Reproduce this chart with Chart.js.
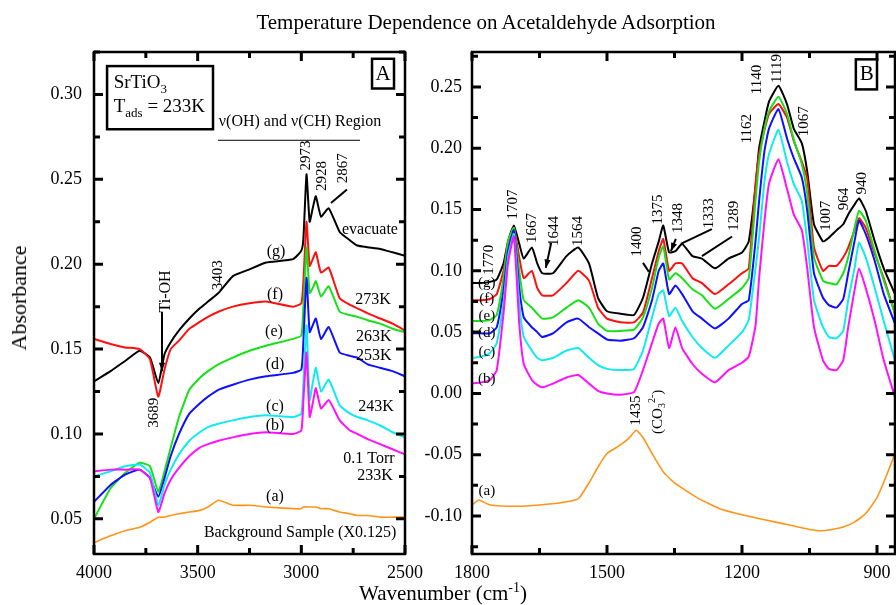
<!DOCTYPE html>
<html>
<head>
<meta charset="utf-8">
<script src="https://cdn.jsdelivr.net/npm/chart.js@4.4.1/dist/chart.umd.min.js"></script>
<style>
  body { margin: 0; background: #fff; font-family: "Liberation Serif", serif; }
  #page { position: relative; width: 896px; height: 605px; overflow: hidden; }
  #title { position: absolute; left: 486px; top: 10px; transform: translateX(-50%); font-size: 21px; white-space: nowrap; }
  #ytitle { position: absolute; left: 19px; top: 298px; transform: translate(-50%, -50%) rotate(-90deg); font-size: 22px; white-space: nowrap; }
  #xtitle { position: absolute; left: 443px; top: 580px; transform: translateX(-50%); font-size: 21px; white-space: nowrap; }
  #xtitle sup { font-size: 14px; }
  #wrapA { position: absolute; left: 0; top: 0; }
  #wrapB { position: absolute; left: 400px; top: 0; }
</style>
</head>
<body>
<div id="page">
  <div id="wrapB"><canvas id="chartB" width="496" height="605"></canvas></div>
  <div id="wrapA"><canvas id="chartA" width="440" height="605"></canvas></div>
  <div id="title">Temperature Dependence on Acetaldehyde Adsorption</div>
  <div id="ytitle">Absorbance</div>
  <div id="xtitle">Wavenumber (cm<sup>-1</sup>)</div>
</div>
<script>
"use strict";
{
    // ---- panel A: v(OH) / v(CH) region ----
    const wnA = [4000, 3920, 3850, 3780, 3730, 3690, 3660, 3630, 3590, 3540, 3490, 3450, 3400, 3330, 3250, 3170,
        3040, 3000, 2990, 2975, 2960, 2945, 2930, 2905, 2868, 2815, 2765, 2730, 2680, 2620, 2560, 2500];
    const absA_a = [0.036, 0.040, 0.043, 0.045, 0.048, 0.051, 0.051, 0.052, 0.053, 0.054, 0.055, 0.057, 0.061, 0.058, 0.058, 0.057,
        0.056, 0.056, 0.057, 0.057, 0.057, 0.057, 0.057, 0.056, 0.056, 0.054, 0.053, 0.052, 0.052, 0.051, 0.051, 0.051];
    const absA_b = [0.078, 0.079, 0.079, 0.079, 0.074, 0.054, 0.065, 0.073, 0.080, 0.087, 0.092, 0.094, 0.096, 0.098, 0.100, 0.101,
        0.100, 0.102, 0.120, 0.148, 0.110, 0.118, 0.127, 0.115, 0.120, 0.108, 0.102, 0.100, 0.097, 0.094, 0.091, 0.088];
    const absA_c = [0.075, 0.078, 0.081, 0.082, 0.077, 0.058, 0.070, 0.079, 0.088, 0.096, 0.101, 0.104, 0.106, 0.108, 0.110, 0.111,
        0.110, 0.112, 0.130, 0.164, 0.120, 0.130, 0.139, 0.125, 0.132, 0.117, 0.112, 0.110, 0.108, 0.105, 0.101, 0.098];
    const absA_d = [0.060, 0.070, 0.076, 0.079, 0.074, 0.063, 0.074, 0.087, 0.100, 0.112, 0.118, 0.122, 0.126, 0.129, 0.132, 0.134,
        0.136, 0.138, 0.155, 0.192, 0.160, 0.164, 0.168, 0.156, 0.163, 0.148, 0.146, 0.145, 0.141, 0.139, 0.137, 0.134];
    const absA_e = [0.050, 0.068, 0.077, 0.083, 0.081, 0.066, 0.078, 0.092, 0.110, 0.126, 0.133, 0.137, 0.141, 0.145, 0.149, 0.152,
        0.156, 0.158, 0.175, 0.210, 0.183, 0.186, 0.190, 0.181, 0.187, 0.172, 0.170, 0.169, 0.167, 0.165, 0.162, 0.160];
    const absA_f = [0.156, 0.153, 0.151, 0.150, 0.144, 0.122, 0.138, 0.150, 0.155, 0.162, 0.166, 0.169, 0.172, 0.175, 0.177, 0.178,
        0.175, 0.177, 0.190, 0.225, 0.199, 0.203, 0.207, 0.195, 0.198, 0.180, 0.176, 0.174, 0.171, 0.168, 0.165, 0.161];
    const absA_g = [0.131, 0.137, 0.143, 0.149, 0.145, 0.130, 0.147, 0.154, 0.161, 0.168, 0.174, 0.178, 0.183, 0.193, 0.197, 0.201,
        0.203, 0.208, 0.215, 0.253, 0.225, 0.233, 0.240, 0.228, 0.233, 0.219, 0.214, 0.211, 0.210, 0.209, 0.207, 0.205];
    const xTicksA = [2500, 3000, 3500, 4000];
    const yTicksA = [0.05, 0.10, 0.15, 0.20, 0.25, 0.30];

    // ---- panel B: fingerprint region ----
    const wnB = [1800, 1780, 1760, 1745, 1730, 1720, 1707, 1695, 1685, 1667, 1655, 1644, 1620, 1590, 1564, 1540, 1520, 1500,
        1470, 1440, 1420, 1400, 1385, 1375, 1362, 1348, 1333, 1310, 1289, 1260, 1230, 1200, 1185, 1170, 1162, 1150,
        1140, 1119, 1100, 1085, 1067, 1055, 1040, 1020, 1007, 990, 975, 964, 950, 940, 925, 905, 885, 860];
    const absB_b = [0.008, 0.009, 0.011, 0.019, 0.065, 0.106, 0.128, 0.057, 0.024, 0.011, 0.007, 0.005, 0.008, 0.013, 0.015, 0.008, 0.002, 0.000,
        -0.001, 0.001, 0.019, 0.041, 0.057, 0.061, 0.037, 0.054, 0.037, 0.024, 0.016, 0.009, 0.019, 0.025, 0.030, 0.055, 0.094, 0.141,
        0.171, 0.191, 0.167, 0.146, 0.133, 0.102, 0.054, 0.027, 0.020, 0.019, 0.027, 0.054, 0.084, 0.102, 0.086, 0.059, 0.027, -0.003];
    const absB_c = [0.029, 0.030, 0.033, 0.041, 0.073, 0.111, 0.130, 0.073, 0.046, 0.035, 0.029, 0.027, 0.029, 0.035, 0.037, 0.029, 0.023, 0.020,
        0.019, 0.020, 0.035, 0.062, 0.081, 0.084, 0.063, 0.070, 0.059, 0.046, 0.037, 0.029, 0.039, 0.050, 0.060, 0.102, 0.127, 0.173,
        0.195, 0.215, 0.189, 0.171, 0.157, 0.124, 0.076, 0.054, 0.046, 0.045, 0.051, 0.076, 0.102, 0.123, 0.111, 0.086, 0.059, 0.027];
    const absB_d = [0.049, 0.049, 0.049, 0.054, 0.084, 0.116, 0.133, 0.086, 0.062, 0.054, 0.050, 0.046, 0.049, 0.058, 0.061, 0.054, 0.049, 0.044,
        0.043, 0.045, 0.054, 0.076, 0.100, 0.106, 0.081, 0.088, 0.081, 0.067, 0.061, 0.053, 0.061, 0.073, 0.076, 0.124, 0.157, 0.198,
        0.216, 0.232, 0.208, 0.192, 0.176, 0.149, 0.098, 0.078, 0.072, 0.070, 0.077, 0.098, 0.124, 0.141, 0.130, 0.108, 0.081, 0.057];
    const absB_e = [0.059, 0.059, 0.060, 0.064, 0.094, 0.124, 0.135, 0.100, 0.076, 0.070, 0.065, 0.061, 0.062, 0.070, 0.076, 0.070, 0.057, 0.051,
        0.051, 0.052, 0.062, 0.086, 0.111, 0.120, 0.093, 0.098, 0.094, 0.085, 0.080, 0.069, 0.077, 0.086, 0.094, 0.157, 0.189, 0.216,
        0.230, 0.242, 0.228, 0.207, 0.187, 0.163, 0.111, 0.092, 0.090, 0.089, 0.098, 0.111, 0.135, 0.149, 0.141, 0.116, 0.092, 0.065];
    const absB_f = [0.076, 0.076, 0.077, 0.081, 0.100, 0.122, 0.135, 0.111, 0.094, 0.100, 0.086, 0.080, 0.080, 0.090, 0.100, 0.092, 0.070, 0.061,
        0.058, 0.058, 0.066, 0.094, 0.116, 0.126, 0.100, 0.106, 0.106, 0.094, 0.090, 0.081, 0.089, 0.098, 0.102, 0.171, 0.195, 0.215,
        0.228, 0.236, 0.225, 0.206, 0.189, 0.175, 0.119, 0.100, 0.104, 0.104, 0.111, 0.119, 0.133, 0.143, 0.135, 0.114, 0.094, 0.065];
    const absB_g = [0.090, 0.090, 0.091, 0.093, 0.106, 0.124, 0.137, 0.122, 0.110, 0.119, 0.106, 0.098, 0.098, 0.112, 0.119, 0.106, 0.078, 0.067,
        0.065, 0.064, 0.078, 0.106, 0.124, 0.137, 0.115, 0.116, 0.122, 0.112, 0.110, 0.102, 0.110, 0.115, 0.124, 0.168, 0.200, 0.222,
        0.238, 0.251, 0.236, 0.216, 0.204, 0.181, 0.138, 0.124, 0.127, 0.133, 0.138, 0.146, 0.154, 0.159, 0.149, 0.124, 0.102, 0.081];
    // background sample (a) has its own sampling
    const wnB_a = [1800, 1785, 1760, 1700, 1650, 1600, 1564, 1540, 1520, 1500, 1470, 1450, 1435, 1420, 1400, 1375,
        1350, 1300, 1250, 1200, 1150, 1100, 1075, 1050, 1025, 1000, 975, 950, 925, 900, 880, 860];
    const absB_a = [-0.091, -0.087, -0.091, -0.092, -0.091, -0.089, -0.086, -0.073, -0.060, -0.049, -0.042, -0.036, -0.030, -0.036, -0.049, -0.064,
        -0.073, -0.085, -0.094, -0.099, -0.103, -0.107, -0.109, -0.111, -0.112, -0.111, -0.109, -0.105, -0.098, -0.085, -0.068, -0.049];
    const xTicksB = [900, 1200, 1500, 1800];
    const yTicksB = [-0.10, -0.05, 0.00, 0.05, 0.10, 0.15, 0.20, 0.25];

    const colors = { a: '#ff9419', b: '#ff10ff', c: '#10eaf0', d: '#1010ff', e: '#18e018', f: '#ff1010', g: '#000000' };
    const FONT = '"Liberation Serif", "Times New Roman", serif';

    function pts(xs, ys) {
        return xs.map((x, i) => ({ x: x, y: ys[i] }));
    }

    function series(key, xs, ys, width) {
        return {
            label: key,
            data: pts(xs, ys),
            borderColor: colors[key],
            borderWidth: width || 2,
            pointRadius: 0,
            tension: 0.15,
            fill: false
        };
    }

    // draws text with optional sub/superscript parts
    function richText(ctx, segs, size, align) {
        const parts = segs.map(g => typeof g === 'string' ? { s: g } : g);
        let w = 0;
        parts.forEach(p => {
            ctx.font = (p.sub || p.sup ? Math.round(size * 0.68) : size) + 'px ' + FONT;
            p.w = ctx.measureText(p.s).width;
            w += p.w;
        });
        let x = align === 'left' ? 0 : align === 'right' ? -w : -w / 2;
        parts.forEach(p => {
            ctx.font = (p.sub || p.sup ? Math.round(size * 0.68) : size) + 'px ' + FONT;
            const dy = p.sub ? size * 0.32 : p.sup ? -size * 0.38 : 0;
            ctx.fillText(p.s, x, dy);
            x += p.w;
        });
    }

    // frame, inward ticks and annotations
    function frameNotes(notes) {
        return {
            id: 'frameNotes',
            afterDraw(chart) {
                const ctx = chart.ctx;
                const area = chart.chartArea;
                const xs = chart.scales.x, ys = chart.scales.y;
                ctx.save();
                ctx.strokeStyle = '#000';
                ctx.lineWidth = 2.5;
                ctx.strokeRect(area.left, area.top, area.right - area.left, area.bottom - area.top);

                const drawTicks = (scale, horiz) => {
                    const vals = scale.ticks.map(t => t.value);
                    const step = vals[1] - vals[0];
                    const all = [];
                    vals.forEach(v => all.push([v, true]));
                    for (let v = vals[0] - step / 2; v <= scale.max + 1e-9; v += step) {
                        if (v >= scale.min - 1e-9) all.push([v, false]);
                    }
                    ctx.lineWidth = 3;
                    all.forEach(([v, major]) => {
                        const len = major ? 9 : 6;
                        const p = scale.getPixelForValue(v);
                        ctx.beginPath();
                        if (horiz) {
                            ctx.moveTo(p, area.bottom); ctx.lineTo(p, area.bottom - len);
                            ctx.moveTo(p, area.top); ctx.lineTo(p, area.top + len);
                        } else {
                            ctx.moveTo(area.left, p); ctx.lineTo(area.left + len, p);
                            ctx.moveTo(area.right, p); ctx.lineTo(area.right - len, p);
                        }
                        ctx.stroke();
                    });
                };
                drawTicks(xs, true);
                drawTicks(ys, false);

                ctx.fillStyle = '#000';
                ctx.textBaseline = 'middle';
                notes.forEach(n => {
                    if (n.box) {
                        const [x1, y1, x2, y2] = n.box;
                        const px1 = xs.getPixelForValue(x1), py1 = ys.getPixelForValue(y1);
                        const px2 = xs.getPixelForValue(x2), py2 = ys.getPixelForValue(y2);
                        ctx.lineWidth = 2.5;
                        ctx.fillStyle = '#fff';
                        ctx.fillRect(px1, py1, px2 - px1, py2 - py1);
                        ctx.strokeRect(px1, py1, px2 - px1, py2 - py1);
                        ctx.fillStyle = '#000';
                        return;
                    }
                    if (n.line) {
                        const [[x1, y1], [x2, y2]] = n.line;
                        const a = [xs.getPixelForValue(x1), ys.getPixelForValue(y1)];
                        const b = [xs.getPixelForValue(x2), ys.getPixelForValue(y2)];
                        ctx.lineWidth = n.w || 2;
                        ctx.beginPath();
                        ctx.moveTo(a[0], a[1]);
                        ctx.lineTo(b[0], b[1]);
                        ctx.stroke();
                        if (n.arrow) {
                            const ang = Math.atan2(b[1] - a[1], b[0] - a[0]);
                            ctx.beginPath();
                            ctx.moveTo(b[0], b[1]);
                            ctx.lineTo(b[0] - 9 * Math.cos(ang - 0.35), b[1] - 9 * Math.sin(ang - 0.35));
                            ctx.lineTo(b[0] - 9 * Math.cos(ang + 0.35), b[1] - 9 * Math.sin(ang + 0.35));
                            ctx.closePath();
                            ctx.fill();
                        }
                        return;
                    }
                    ctx.save();
                    ctx.translate(xs.getPixelForValue(n.x), ys.getPixelForValue(n.y));
                    if (n.rot) ctx.rotate(n.rot * Math.PI / 180);
                    richText(ctx, Array.isArray(n.t) ? n.t : [n.t], n.size || 16, n.align);
                    ctx.restore();
                });
                ctx.restore();
            }
        };
    }

    const notesA = [
        { box: [3937, 0.3167, 3426, 0.2795] },
        { t: ['SrTiO', { s: '3', sub: true }], x: 3905, y: 0.3065, size: 19, align: 'left' },
        { t: ['T', { s: 'ads', sub: true }, ' = 233K'], x: 3905, y: 0.2925, size: 19, align: 'left' },
        { box: [2659, 0.321, 2553, 0.3035] },
        { t: 'A', x: 2606, y: 0.312, size: 21 },
        { t: 'ν(OH) and ν(CH) Region', x: 3006, y: 0.284 },
        { line: [[3402, 0.273], [2717, 0.273]], w: 1 },
        { t: '2973', x: 2978, y: 0.264, rot: -90, size: 15 },
        { t: '2928', x: 2900, y: 0.252, rot: -90, size: 15 },
        { t: '2867', x: 2800, y: 0.2565, rot: -90, size: 15 },
        { line: [[2780, 0.244], [2857, 0.236]], w: 2 },
        { t: 'evacuate', x: 2669, y: 0.2205 },
        { t: '3403', x: 3402, y: 0.1935, rot: -90, size: 15 },
        { t: 'Ti-OH', x: 3654, y: 0.184, rot: -90, size: 16 },
        { line: [[3672, 0.172], [3672, 0.137]], w: 2, arrow: true },
        { t: '3689', x: 3711, y: 0.1125, rot: -90, size: 15 },
        { t: '(g)', x: 3122, y: 0.2075 },
        { t: '(f)', x: 3127, y: 0.182 },
        { t: '(e)', x: 3132, y: 0.160 },
        { t: '(d)', x: 3127, y: 0.141 },
        { t: '(c)', x: 3127, y: 0.116 },
        { t: '(b)', x: 3127, y: 0.105 },
        { t: '(a)', x: 3127, y: 0.063 },
        { t: '273K', x: 2654, y: 0.179 },
        { t: '263K', x: 2650, y: 0.157 },
        { t: '253K', x: 2650, y: 0.146 },
        { t: '243K', x: 2640, y: 0.116 },
        { t: '0.1 Torr', x: 2674, y: 0.0855 },
        { t: '233K', x: 2645, y: 0.0755 },
        { t: 'Background Sample (X0.125)', x: 3006, y: 0.0417 }
    ];

    const notesB = [
        { box: [947, 0.2725, 900, 0.248] },
        { t: 'B', x: 923, y: 0.2605, size: 21 },
        { t: '(g)', x: 1767, y: 0.090, size: 15 },
        { t: '(f)', x: 1767, y: 0.077, size: 15 },
        { t: '(e)', x: 1767, y: 0.063, size: 15 },
        { t: '(d)', x: 1767, y: 0.049, size: 15 },
        { t: '(c)', x: 1767, y: 0.034, size: 15 },
        { t: '(b)', x: 1767, y: 0.012, size: 15 },
        { t: '(a)', x: 1767, y: -0.080, size: 15 },
        { t: '1770', x: 1762, y: 0.109, rot: -90, size: 15 },
        { t: '1707', x: 1709, y: 0.154, rot: -90, size: 15 },
        { t: '1667', x: 1667, y: 0.135, rot: -90, size: 15 },
        { t: '1644', x: 1618, y: 0.1325, rot: -90, size: 15 },
        { line: [[1624, 0.1228], [1636, 0.1024]], w: 2, arrow: true },
        { t: '1564', x: 1564, y: 0.1325, rot: -90, size: 15 },
        { t: '1400', x: 1433, y: 0.124, rot: -90, size: 15 },
        { line: [[1420, 0.1065], [1407, 0.0992]], w: 2 },
        { t: '1375', x: 1387, y: 0.150, rot: -90, size: 15 },
        { t: '1348', x: 1342, y: 0.143, rot: -90, size: 15 },
        { line: [[1347, 0.126], [1358, 0.116]], w: 2, arrow: true },
        { t: '1333', x: 1273, y: 0.147, rot: -90, size: 15 },
        { line: [[1267, 0.134], [1336, 0.122]], w: 2 },
        { t: '1289', x: 1218, y: 0.145, rot: -90, size: 15 },
        { line: [[1222, 0.128], [1289, 0.112]], w: 2 },
        { t: '1162', x: 1189, y: 0.216, rot: -90, size: 15 },
        { t: '1140', x: 1167, y: 0.256, rot: -90, size: 15 },
        { t: '1119', x: 1122, y: 0.265, rot: -90, size: 15 },
        { t: '1067', x: 1062, y: 0.222, rot: -90, size: 15 },
        { t: '1007', x: 1013, y: 0.145, rot: -90, size: 15 },
        { t: '964', x: 973, y: 0.1585, rot: -90, size: 15 },
        { t: '940', x: 933, y: 0.1715, rot: -90, size: 15 },
        { t: '1435', x: 1436, y: -0.014, rot: -90, size: 15 },
        { t: ['(CO', { s: '3', sub: true }, { s: '2-', sup: true }, ')'], x: 1387, y: -0.015, rot: -90, size: 15 }
    ];

    function axisFont() {
        return { family: FONT, size: 18 };
    }

    function makeChart(id, datasets, xr, xTicks, yr, yTicks, yWidth, yPad, pad, notes) {
        new Chart(document.getElementById(id), {
            type: 'line',
            data: { datasets: datasets },
            options: {
                responsive: false,
                animation: false,
                devicePixelRatio: 1,
                layout: { padding: pad },
                plugins: { legend: { display: false }, tooltip: { enabled: false } },
                scales: {
                    x: {
                        type: 'linear',
                        reverse: true,
                        min: xr[0], max: xr[1],
                        grid: { display: false, drawTicks: false },
                        border: { display: false },
                        ticks: {
                            color: '#000', font: axisFont(), maxRotation: 0, autoSkip: false, padding: 8,
                            callback: v => String(v)
                        },
                        afterBuildTicks(scale) { scale.ticks = xTicks.map(v => ({ value: v })); },
                        afterFit(scale) { scale.height = 51; }
                    },
                    y: {
                        min: yr[0], max: yr[1],
                        grid: { display: false, drawTicks: false },
                        border: { display: false },
                        ticks: {
                            color: '#000', font: axisFont(), autoSkip: false, padding: yPad,
                            callback: v => Number(v).toFixed(2)
                        },
                        afterBuildTicks(scale) { scale.ticks = yTicks.map(v => ({ value: v })); },
                        afterFit(scale) { scale.width = yWidth; }
                    }
                }
            },
            plugins: [frameNotes(notes)]
        });
    }

    makeChart('chartA', [
        series('a', wnA, absA_a, 1.6),
        series('b', wnA, absA_b),
        series('c', wnA, absA_c),
        series('d', wnA, absA_d),
        series('e', wnA, absA_e),
        series('f', wnA, absA_f),
        series('g', wnA, absA_g)
    ], [2500, 4000], xTicksA, [0.0293, 0.325], yTicksA, 94, 12, { left: 0, top: 52, right: 35, bottom: 0 }, notesA);

    makeChart('chartB', [
        series('a', wnB_a, absB_a, 1.6),
        series('b', wnB, absB_b),
        series('c', wnB, absB_c),
        series('d', wnB, absB_d),
        series('e', wnB, absB_e),
        series('f', wnB, absB_f),
        series('g', wnB, absB_g)
    ], [860, 1800], xTicksB, [-0.131, 0.2785], yTicksB, 72, 10, { left: 0, top: 52, right: 1, bottom: 0 }, notesB);
}
</script>
</body>
</html>
